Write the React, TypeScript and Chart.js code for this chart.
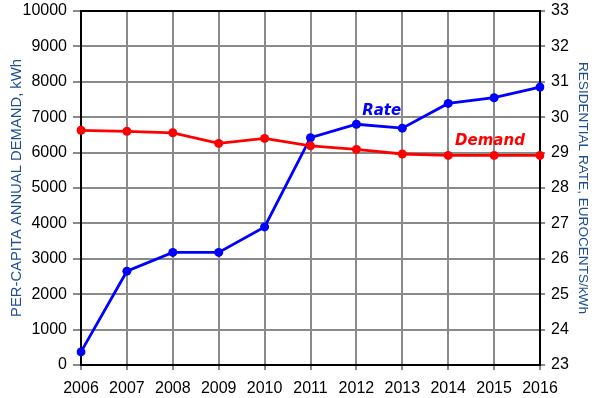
import React, { useEffect, useRef } from "react";
import { Chart, registerables } from "chart.js";

Chart.register(...registerables);

const years = ["2006", "2007", "2008", "2009", "2010", "2011", "2012", "2013", "2014", "2015", "2016"];
const demandKWh = [6630, 6600, 6560, 6260, 6400, 6190, 6090, 5960, 5920, 5920, 5920];
const rateEurocents = [23.37, 25.65, 26.18, 26.18, 26.9, 29.42, 29.8, 29.69, 30.39, 30.55, 30.85];
const demandAxisMin = 0;
const demandAxisMax = 10000;
const demandAxisStep = 1000;
const rateAxisMin = 23;
const rateAxisMax = 33;
const rateAxisStep = 1;
const leftTitle = "PER-CAPITA ANNUAL DEMAND, kWh";
const rightTitle = "RESIDENTIAL RATE, EUROCENTS/kWh";

// series name labels, placed in data coordinates (category index, axis value)
const seriesLabels = [
  { text: "Rate", index: 6.55, axis: "yRate", value: 30.17, color: "#0000FF" },
  { text: "Demand", index: 8.91, axis: "yDemand", value: 6317, color: "#FF0000" },
];

const frameAndLabels = {
  id: "frameAndLabels",
  beforeDatasetsDraw(chart: any) {
    const { ctx, chartArea } = chart;
    ctx.save();
    ctx.strokeStyle = "#000000";
    ctx.lineWidth = 2;
    ctx.strokeRect(chartArea.left, chartArea.top, chartArea.right - chartArea.left, chartArea.bottom - chartArea.top);
    ctx.restore();
  },
  afterDatasetsDraw(chart: any) {
    const { ctx } = chart;
    const xs = chart.scales.x;
    ctx.save();
    ctx.font = "italic bold 15px 'DejaVu Sans'";
    ctx.textAlign = "center";
    ctx.textBaseline = "middle";
    for (const l of seriesLabels) {
      const x = xs.getPixelForValue(l.index);
      const y = chart.scales[l.axis].getPixelForValue(l.value);
      ctx.fillStyle = l.color;
      ctx.fillText(l.text, x, y);
    }
    ctx.restore();
  },
};

const whiteBg = {
  id: "whiteBg",
  beforeDraw(chart: any) {
    const { ctx, width, height } = chart;
    ctx.save();
    ctx.fillStyle = "#ffffff";
    ctx.fillRect(0, 0, width, height);
    ctx.restore();
  },
};

export default function App() {
  const ref = useRef<HTMLCanvasElement | null>(null);
  useEffect(() => {
    if (!ref.current) return;
    const tickFont = { family: "Liberation Sans", size: 16 };
    const gridColor = "#8a8a8a";
    const plain = (v: any) => String(v);
    const chart = new Chart(ref.current, {
      type: "line",
      data: {
        labels: years,
        datasets: [
          {
            label: "Demand",
            data: demandKWh,
            yAxisID: "yDemand",
            borderColor: "#FF0000",
            backgroundColor: "#FF0000",
            borderWidth: 2.8,
            pointRadius: 4.5,
            pointHoverRadius: 4.5,
            pointBorderWidth: 0,
            tension: 0,
          },
          {
            label: "Rate",
            data: rateEurocents,
            yAxisID: "yRate",
            borderColor: "#0000FF",
            backgroundColor: "#0000FF",
            borderWidth: 2.8,
            pointRadius: 4.5,
            pointHoverRadius: 4.5,
            pointBorderWidth: 0,
            tension: 0,
          },
        ],
      },
      options: {
        animation: false,
        responsive: true,
        maintainAspectRatio: false,
        layout: { padding: { top: 11, left: 0, right: 0, bottom: 0 } },
        plugins: { legend: { display: false }, tooltip: { enabled: false } },
        scales: {
          x: {
            type: "category",
            offset: false,
            grid: { color: gridColor, lineWidth: 2, tickLength: 5, drawTicks: true },
            border: { display: false },
            ticks: { color: "#000", font: tickFont, padding: 9, maxRotation: 0, autoSkip: false },
            afterFit(scale: any) {
              scale.height = 33;
              scale.paddingLeft = 0;
              scale.paddingRight = 0;
            },
          },
          yDemand: {
            type: "linear",
            position: "left",
            min: demandAxisMin,
            max: demandAxisMax,
            grid: { color: gridColor, lineWidth: 2, tickLength: 8 },
            border: { display: false },
            ticks: { stepSize: demandAxisStep, color: "#000", font: tickFont, padding: 6, callback: plain },
            title: { display: true, text: leftTitle, color: "#1F4F8F", font: { family: "Liberation Sans", size: 14.8 }, padding: { top: 8, bottom: 0 } },
            afterFit(scale: any) {
              scale.width = 81;
              scale.paddingTop = 0;
              scale.paddingBottom = 0;
            },
          },
          yRate: {
            type: "linear",
            position: "right",
            min: rateAxisMin,
            max: rateAxisMax,
            grid: { color: gridColor, lineWidth: 2, tickLength: 5, drawOnChartArea: false },
            border: { display: false },
            ticks: { stepSize: rateAxisStep, color: "#000", font: tickFont, padding: 6, callback: plain },
            title: { display: true, text: rightTitle, color: "#1F4F8F", font: { family: "Liberation Sans", size: 13.6 }, padding: { top: 5, bottom: 0 } },
            afterFit(scale: any) {
              scale.width = 56;
              scale.paddingTop = 0;
              scale.paddingBottom = 0;
            },
          },
        },
      },
      plugins: [whiteBg, frameAndLabels],
    } as any);
    return () => chart.destroy();
  }, []);
  return (
    <div style={{ position: "fixed", left: 0, top: 0, width: 596, height: 398, background: "#fff" }}>
      <canvas ref={ref} />
    </div>
  );
}
